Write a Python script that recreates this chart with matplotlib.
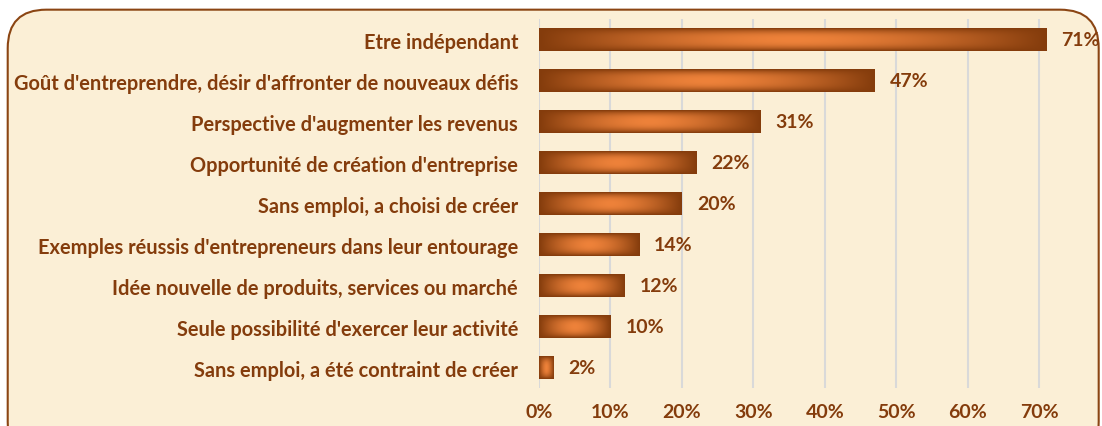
import numpy as np
import matplotlib.pyplot as plt
from matplotlib.patches import FancyBboxPatch

categories = [
    "Etre indépendant",
    "Goût d'entreprendre, désir d'affronter de nouveaux défis",
    "Perspective d'augmenter les revenus",
    "Opportunité de création d'entreprise",
    "Sans emploi, a choisi de créer",
    "Exemples réussis d'entrepreneurs dans leur entourage",
    "Idée nouvelle de produits, services ou marché",
    "Seule possibilité d'exercer leur activité",
    "Sans emploi, a été contraint de créer",
]
values = [0.71, 0.47, 0.31, 0.22, 0.20, 0.14, 0.12, 0.10, 0.02]
value_labels = ["71%", "47%", "31%", "22%", "20%", "14%", "12%", "10%", "2%"]
xticks = [0, 0.1, 0.2, 0.3, 0.4, 0.5, 0.6, 0.7]
xtick_labels = ["0%", "10%", "20%", "30%", "40%", "50%", "60%", "70%"]

text_color = "#843C0C"
dark = np.array([0x84, 0x3C, 0x0C]) / 255
light = np.array([0xEE, 0x82, 0x3A]) / 255
bg = "#FBEFD6"

plt.rcParams['font.family'] = ['Lato', 'DejaVu Sans']

fig = plt.figure(figsize=(11.02, 4.27), dpi=100)
fig.patch.set_facecolor("white")

# rounded frame
frame = FancyBboxPatch((0.007, -0.08), 0.99, 1.055,
                       boxstyle="round,pad=0,rounding_size=0.035",
                       transform=fig.transFigure, facecolor=bg,
                       edgecolor="#8B4513", linewidth=1.5,
                       mutation_aspect=1102 / 427, zorder=-5)
fig.patches.append(frame)

ax = fig.add_axes([0.489, 0.089, 0.506, 0.864])
ax.set_facecolor("none")

h = 0.55
y = np.arange(len(categories))
bars = ax.barh(y, values, height=h, color=dark, zorder=2)

# gradient fill for each bar
nx, ny = 200, 40
for b in bars:
    xs = np.linspace(0, 1, nx)
    ys = np.linspace(0, 1, ny)
    hx = 1 - np.abs(2 * xs - 1) ** 1.6
    vy = 1 - np.abs(2 * ys - 1) ** 2.5
    t = np.outer(vy, hx)
    img = dark[None, None, :] + (light - dark)[None, None, :] * t[:, :, None]
    x0, y0 = b.get_x(), b.get_y()
    ax.imshow(img, extent=(x0, x0 + b.get_width(), y0, y0 + b.get_height()),
              aspect='auto', zorder=3, interpolation='bilinear')

for i, v in enumerate(values):
    ax.text(v + 0.021, i, value_labels[i], va='center', ha='left',
            fontsize=14, fontweight='bold', color=text_color)

ax.set_xlim(0, 0.78)
ax.set_ylim(len(categories) - 0.5, -0.5)
ax.set_yticks(y)
ax.set_yticklabels(categories)
ax.set_xticks(xticks)
ax.set_xticklabels(xtick_labels)
ax.tick_params(axis='both', length=0, labelsize=14, labelcolor=text_color)
ax.tick_params(axis='y', pad=15, labelsize=14.4)
ax.tick_params(axis='x', pad=11)
for lab in ax.get_xticklabels() + ax.get_yticklabels():
    lab.set_fontweight('bold')
ax.grid(axis='x', color="#D9D9D9", linewidth=1.5, zorder=0)
ax.set_axisbelow(True)
for s in ax.spines.values():
    s.set_visible(False)

fig.savefig("out.png", dpi=100, facecolor=fig.get_facecolor())
